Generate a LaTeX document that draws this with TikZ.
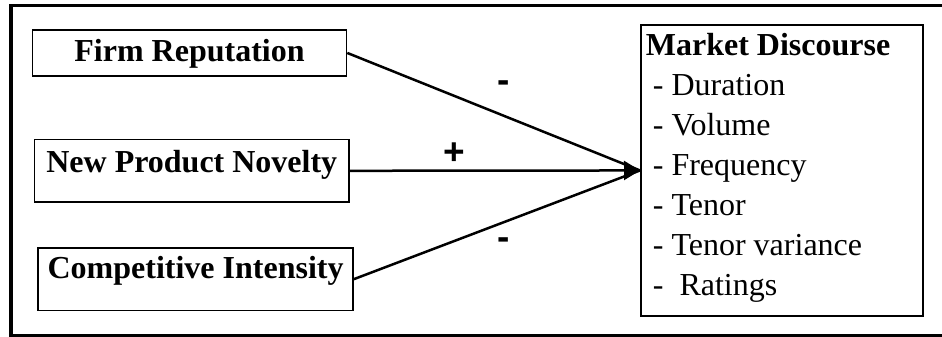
\documentclass[tikz,border=0pt]{standalone}
\usepackage{fontspec}
\setmainfont{Liberation Serif}
\newfontfamily\signfont{Liberation Sans}
\usetikzlibrary{arrows.meta}
\tikzset{
  factor/.style={draw=black, line width=1.6pt, rectangle, inner sep=0pt,
    font=\fontsize{32}{40}\selectfont\bfseries},
  conn/.style={line width=2.5pt},
  sign/.style={inner sep=0pt, font=\fontsize{37}{40}\selectfont\signfont\bfseries},
}
\begin{document}
\begin{tikzpicture}[x=1pt,y=-1pt]
\useasboundingbox (0,0) rectangle (942,337);
\clip (0,0) rectangle (942,337);
% outer frame
\draw[line width=3.8pt] (11,5.5) rectangle (970,335.5);
% factor boxes
\node[factor, anchor=north west, minimum width=314pt, text height=32pt, text depth=14.3pt] (firm) at (31.7,29) {Firm Reputation};
\node[factor, anchor=north west, minimum width=314.6pt, text height=33.3pt, text depth=29.3pt] (npn) at (33.7,138.7) {New Product Novelty};
\node[factor, anchor=north west, minimum width=315pt, text height=31pt, text depth=31.7pt] (ci) at (37.3,247) {Competitive Intensity};
% market discourse box
\node[draw=black, line width=1.6pt, rectangle, inner sep=0pt, anchor=north west,
      minimum width=282.4pt, minimum height=290.7pt] (md) at (640,24.3) {};
\node[inner sep=0pt, anchor=north west, align=left, font=\fontsize{32}{40}\selectfont] (mdtext) at (645.7,33.4)
  {\textbf{Market Discourse}\\
   \hspace*{7pt}- Duration\\
   \hspace*{7pt}- Volume\\
   \hspace*{7pt}- Frequency\\
   \hspace*{7pt}- Tenor\\
   \hspace*{7pt}- Tenor variance\\
   \hspace*{7pt}-~ Ratings};
% connectors
\draw[conn] (firm.east) -- (md.west);
\draw[conn] (ci.east) -- (md.west);
\draw[conn, -{Triangle[length=16pt,width=19pt]}] (npn.east) -- (md.west);
% signs
\node[sign] (s1) at (504,87) {-};
\node[sign] (s2) at (454,154) {+};
\node[sign] (s3) at (504,244) {-};
\end{tikzpicture}
\end{document}
